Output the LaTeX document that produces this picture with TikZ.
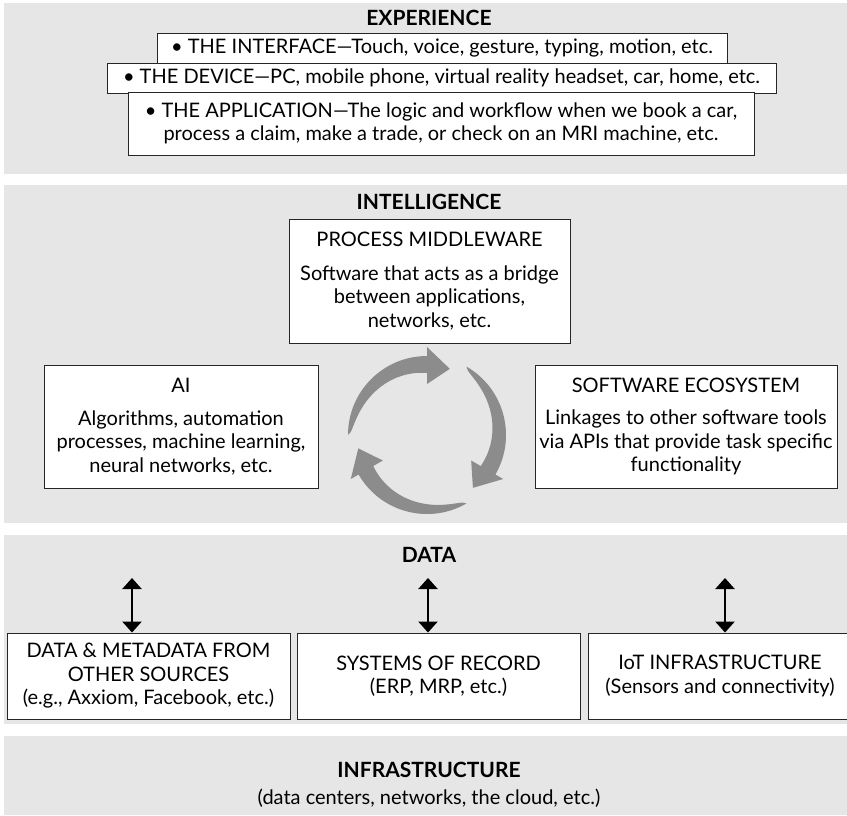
\documentclass[tikz,border=0pt]{standalone}
\usepackage{fontspec}
\setmainfont{Lato}
\usepackage{tikz}
\usetikzlibrary{positioning, arrows.meta}
\definecolor{panelgray}{HTML}{E6E6E6}
\definecolor{cyclegray}{HTML}{8C8C8C}
\begin{document}
\begin{tikzpicture}[x=1pt,y=-1pt,
  panel/.style={fill=panelgray},
  box/.style={draw=black!85, line width=0.9pt, fill=white, align=center, inner sep=0pt, font=\fontsize{20}{23.5}\selectfont},
  head/.style={font=\fontsize{21}{24}\selectfont\bfseries},
  updown/.style={{Triangle[width=19pt,length=11pt]}-{Triangle[width=19pt,length=11pt]}, line width=2.4pt}]
\useasboundingbox (0,0) rectangle (847,815);
\fill[panel] (4,3) rectangle (847,174);
\fill[panel] (4,185) rectangle (847,523);
\fill[panel] (4,535) rectangle (847,724);
\fill[panel] (4,736) rectangle (847,815);

\node[head] (exp) at (429,18) {EXPERIENCE};
\node[box, minimum width=570, minimum height=30] (iface) at (442,48) {\textbullet{} THE INTERFACE---Touch, voice, gesture, typing, motion, etc.};
\node[box, minimum width=669, minimum height=30] (device) at (441.5,78) {\textbullet{} THE DEVICE---PC, mobile phone, virtual reality headset, car, home, etc.};
\node[box, minimum width=626, minimum height=63] (app) at (441,123.5) {\textbullet{} THE APPLICATION---The logic and workflow when we book a car,\\ process a claim, make a trade, or check on an MRI machine, etc.};

\node[head] (intel) at (429,202) {INTELLIGENCE};
\node[box, minimum width=281, minimum height=124] (middle) at (429.5,281) {PROCESS MIDDLEWARE\\[10pt] Software that acts as a bridge\\ between applications,\\ networks, etc.};
\node[box, minimum width=274, minimum height=123] (ai) at (181,426.5) {AI\\[9pt] Algorithms, automation\\ processes, machine learning,\\ neural networks, etc.};
\node[box, minimum width=302, minimum height=123] (eco) at (686,426.5) {SOFTWARE ECOSYSTEM\\[9pt] Linkages to other software tools\\ via APIs that provide task specific\\ functionality};
\begin{scope}[shift={(427,435)}, yscale=-1]
\foreach \t/\h in {180/90, 60/-30, -60/-150}{
\fill[cyclegray] (\t:79) arc[start angle=\t, end angle=\h, radius=79] -- (\h:88) -- ({\h-19}:70) -- (\h:51) -- (\h:62)
  -- plot[domain=\h:\t, samples=40] (\x:{79-17*sqrt(abs((\t-\x)/(\t-\h)))}) -- cycle;
}
\end{scope}

\node[head] (data) at (429,555) {DATA};
\node[box, minimum width=283, minimum height=86] (srcA) at (148.5,676) {DATA \& METADATA FROM\\ OTHER SOURCES\\ (e.g., Axxiom, Facebook, etc.)};
\node[box, minimum width=283, minimum height=86] (srcB) at (438.5,676) {SYSTEMS OF RECORD\\ (ERP, MRP, etc.)};
\node[box, minimum width=264, minimum height=86] (srcC) at (720,676) {IoT INFRASTRUCTURE\\ (Sensors and connectivity)};
\coordinate (ta) at (132,578);
\coordinate (tb) at (428,578);
\coordinate (tc) at (725,578);
\draw[updown] (ta) -- (ta |- srcA.north);
\draw[updown] (tb) -- (tb |- srcB.north);
\draw[updown] (tc) -- (tc |- srcC.north);

\node[head] (infra) at (429,770) {INFRASTRUCTURE};
\node[font=\fontsize{20}{23.5}\selectfont] (infrasub) at (429,798) {(data centers, networks, the cloud, etc.)};
\end{tikzpicture}
\end{document}
